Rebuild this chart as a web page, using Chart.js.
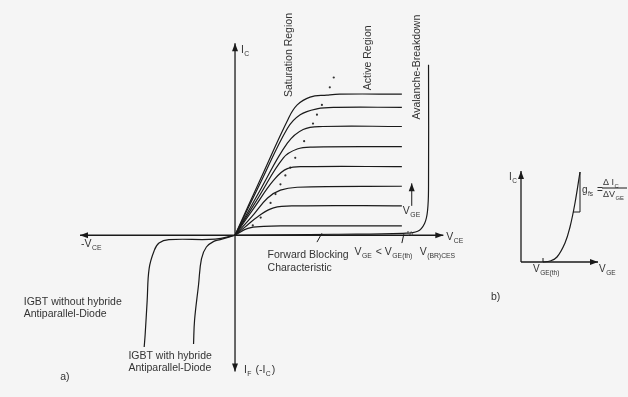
<!DOCTYPE html>
<html>
<head>
<meta charset="utf-8">
<script src="https://cdn.jsdelivr.net/npm/chart.js@4"></script>
<style>
  body { margin: 0; background: #f5f5f5; }
  #wrap { position: relative; width: 628px; height: 397px; }
  #main { position: absolute; left: 0; top: 0; }
  #small { position: absolute; left: 490px; top: 160px; }
</style>
</head>
<body>
<div id="wrap">
  <canvas id="main" width="628" height="397"></canvas>
  <canvas id="small" width="138" height="150"></canvas>
</div>
<script>
// output curves Ic(Vce), one per gate voltage
let curve1 = [[0,0],[2.7,6],[5.4,11.9],[6.3,13.3],[7.6,14.1],[9.3,14.3],[10.6,14.4],[16.9,14.4]];
let curve2 = [[0,0],[2.6,5.4],[5.3,10.9],[6.6,12.3],[8.3,12.9],[10.3,13.05],[16.9,13.05]];
let curve3 = [[0,0],[2.6,4.7],[5.3,9.4],[6.9,10.8],[8.9,11.1],[16.9,11.1]];
let curve4 = [[0,0],[2.4,3.9],[4.9,7.9],[6.3,8.8],[7.9,9.0],[16.9,9.05]];
let curve5 = [[0,0],[2.0,2.9],[3.9,5.6],[5.3,6.8],[7.3,7.0],[16.9,7.0]];
let curve6 = [[0,0],[1.7,1.9],[3.3,3.8],[4.6,4.6],[6.3,4.9],[16.9,5.0]];
let curve7 = [[0,0],[1.2,1.0],[2.3,1.9],[3.9,2.8],[6.3,3.0],[16.9,3.0]];
let curve8 = [[0,0],[1.3,0.7],[2.9,0.9],[5.0,0.95],[16.9,0.95]];
let blocking = [[0,0],[10,0.1],[17,0.2],[18.5,0.4],[19.2,1.2],[19.5,2.5],[19.6,5],[19.6,17.4]];
let diodeOff = [[0,0],[-2,-0.4],[-6.7,-0.45],[-7.7,-0.8],[-8.2,-1.6],[-8.7,-3.4],[-8.9,-6.7],[-9.1,-10.1],[-9.2,-11.4]];
let diodeOn = [[0,0],[-1.5,-0.45],[-2.1,-0.6],[-2.9,-1.2],[-3.4,-2.4],[-3.7,-5.1],[-4.1,-8.7],[-4.2,-11.1]];
let knee = [[1.8,1.0],[2.6,1.8],[3.6,3.3],[4.1,4.2],[4.6,5.2],[5.1,6.1],[5.6,6.9],[6.1,7.9],[7.0,9.6],[7.9,11.4],[8.3,12.3],[8.8,13.3],[9.6,15.1],[10.0,16.1]];

// transfer curve Ic(Vge)
let transfer = [[2.2,0],[2.9,0.1],[3.6,0.5],[4.4,1.9],[4.9,3.5],[5.4,5.9],[5.9,9.0]];
let slopeTri = [[5.2,5.0],[5.9,5.0],[5.9,9.0]];

let ink = '#1a1a1a';
let txt = '#333';

function pts(a) { return a.map(p => ({x: p[0], y: p[1]})); }

function lineSet(a) {
  return { data: pts(a), showLine: true, borderColor: ink, borderWidth: 1.2, pointRadius: 0, tension: 0.4, fill: false };
}

function arrow(ctx, x1, y1, x2, y2) {
  ctx.beginPath(); ctx.moveTo(x1, y1); ctx.lineTo(x2, y2); ctx.stroke();
  let a = Math.atan2(y2 - y1, x2 - x1);
  ctx.beginPath();
  ctx.moveTo(x2, y2);
  ctx.lineTo(x2 - 8 * Math.cos(a) + 3 * Math.sin(a), y2 - 8 * Math.sin(a) - 3 * Math.cos(a));
  ctx.lineTo(x2 - 8 * Math.cos(a) - 3 * Math.sin(a), y2 - 8 * Math.sin(a) + 3 * Math.cos(a));
  ctx.closePath(); ctx.fill();
}

// draws text made of [string, isSubscript] parts
function rich(ctx, x, y, parts, size) {
  size = size || 11;
  parts.forEach(p => {
    ctx.font = (p[1] ? size * 0.65 : size) + 'px "Liberation Sans", Arial, sans-serif';
    ctx.fillText(p[0], x, y + (p[1] ? 3 : 0));
    x += ctx.measureText(p[0]).width + (p[1] ? 1 : 0.5);
  });
  return x;
}

let mainLabels = [
  {x: 0.6, y: 18.6, t: [['I',0],['C',1]]},
  {x: -15.6, y: -1.2, t: [['-V',0],['CE',1]]},
  {x: 21.4, y: -0.5, t: [['V',0],['CE',1]]},
  {x: 3.3, y: -2.3, t: [['Forward Blocking',0]]},
  {x: 3.3, y: -3.6, t: [['Characteristic',0]]},
  {x: 12.1, y: -2.0, t: [['V',0],['GE',1],[' < V',0],['GE(th)',1]]},
  {x: 18.7, y: -2.0, t: [['V',0],['(BR)CES',1]]},
  {x: 17.0, y: 2.2, t: [['V',0],['GE',1]]},
  {x: -21.4, y: -7.1, t: [['IGBT without hybride',0]]},
  {x: -21.4, y: -8.3, t: [['Antiparallel-Diode',0]]},
  {x: -10.8, y: -12.6, t: [['IGBT with hybride',0]]},
  {x: -10.8, y: -13.9, t: [['Antiparallel-Diode',0]]},
  {x: -17.7, y: -14.8, t: [['a)',0]]},
  {x: 0.9, y: -14.1, t: [['I',0],['F',1],[' (-I',0],['C',1],[')',0]]}
];
let rotLabels = [
  {x: 5.8, y: 14.1, t: 'Saturation Region'},
  {x: 13.8, y: 14.8, t: 'Active Region'},
  {x: 18.7, y: 11.8, t: 'Avalanche-Breakdown'}
];

let mainDeco = {
  id: 'mainDeco',
  afterDatasetsDraw(chart) {
    let ctx = chart.ctx, sx = chart.scales.x, sy = chart.scales.y;
    let X = v => sx.getPixelForValue(v), Y = v => sy.getPixelForValue(v);
    ctx.save();
    ctx.strokeStyle = ink; ctx.fillStyle = ink; ctx.lineWidth = 1.3;
    arrow(ctx, X(0), Y(0), X(21.1), Y(0));
    arrow(ctx, X(0), Y(0), X(-15.7), Y(0));
    arrow(ctx, X(0), Y(0), X(0), Y(19.6));
    arrow(ctx, X(0), Y(0), X(0), Y(-13.9));
    ctx.lineWidth = 1;
    arrow(ctx, X(17.9), Y(3.0), X(17.9), Y(5.3));
    ctx.beginPath();
    ctx.moveTo(X(8.3), Y(-0.7)); ctx.lineTo(X(8.8), Y(0.2));
    ctx.moveTo(X(16.9), Y(-0.8)); ctx.lineTo(X(17.1), Y(0.1));
    ctx.stroke();
    ctx.fillStyle = txt;
    ctx.textBaseline = 'alphabetic';
    mainLabels.forEach(l => rich(ctx, X(l.x), Y(l.y), l.t, 10.5));
    ctx.font = '7px "Liberation Sans", Arial, sans-serif';
    ctx.fillText('%', X(17.4), Y(-0.1));
    rotLabels.forEach(l => {
      ctx.save();
      ctx.translate(X(l.x), Y(l.y));
      ctx.rotate(-Math.PI / 2);
      ctx.font = '10.5px "Liberation Sans", Arial, sans-serif';
      ctx.fillText(l.t, 0, 0);
      ctx.restore();
    });
    ctx.restore();
  }
};

let hidden = { display: false };

new Chart(document.getElementById('main'), {
  type: 'scatter',
  data: {
    datasets: [curve1, curve2, curve3, curve4, curve5, curve6, curve7, curve8, blocking, diodeOff, diodeOn].map(lineSet)
      .concat([{ data: pts(knee), pointRadius: 1.1, pointBackgroundColor: '#333', pointBorderWidth: 0, showLine: false }])
  },
  options: {
    responsive: false,
    animation: false,
    layout: { padding: 0 },
    plugins: { legend: hidden, tooltip: { enabled: false } },
    scales: {
      x: { type: 'linear', min: -23.4, max: 39.4, display: false },
      y: { type: 'linear', min: -16.1, max: 23.6, display: false }
    }
  },
  plugins: [mainDeco]
});

let smallDeco = {
  id: 'smallDeco',
  afterDatasetsDraw(chart) {
    let ctx = chart.ctx, sx = chart.scales.x, sy = chart.scales.y;
    let X = v => sx.getPixelForValue(v), Y = v => sy.getPixelForValue(v);
    ctx.save();
    ctx.strokeStyle = ink; ctx.fillStyle = ink; ctx.lineWidth = 1.3;
    arrow(ctx, X(0), Y(0), X(7.7), Y(0));
    arrow(ctx, X(0), Y(0), X(0), Y(9.1));
    ctx.lineWidth = 1;
    ctx.beginPath(); ctx.moveTo(X(2.2), Y(0)); ctx.lineTo(X(2.2), Y(0.4)); ctx.stroke();
    ctx.fillStyle = txt;
    rich(ctx, X(-1.2), Y(8.2), [['I',0],['C',1]], 10);
    rich(ctx, X(6.1), Y(6.9), [['g',0],['fs',1],[' =',0]], 10);
    rich(ctx, X(8.2), Y(7.7), [['Δ I',0],['C',1]], 9);
    rich(ctx, X(8.2), Y(6.5), [['ΔV',0],['GE',1]], 9);
    ctx.beginPath(); ctx.moveTo(X(8.1), Y(7.4)); ctx.lineTo(X(10.6), Y(7.4)); ctx.stroke();
    rich(ctx, X(1.2), Y(-1.0), [['V',0],['GE(th)',1]], 10);
    rich(ctx, X(7.8), Y(-1.0), [['V',0],['GE',1]], 10);
    rich(ctx, X(-3.0), Y(-3.8), [['b)',0]], 10.5);
    ctx.restore();
  }
};

new Chart(document.getElementById('small'), {
  type: 'scatter',
  data: { datasets: [lineSet(transfer), Object.assign(lineSet(slopeTri), { tension: 0, borderWidth: 1 })] },
  options: {
    responsive: false,
    animation: false,
    layout: { padding: 0 },
    plugins: { legend: hidden, tooltip: { enabled: false } },
    scales: {
      x: { type: 'linear', min: -3.1, max: 10.7, display: false },
      y: { type: 'linear', min: -4.8, max: 10.2, display: false }
    }
  },
  plugins: [smallDeco]
});
</script>
</body>
</html>
